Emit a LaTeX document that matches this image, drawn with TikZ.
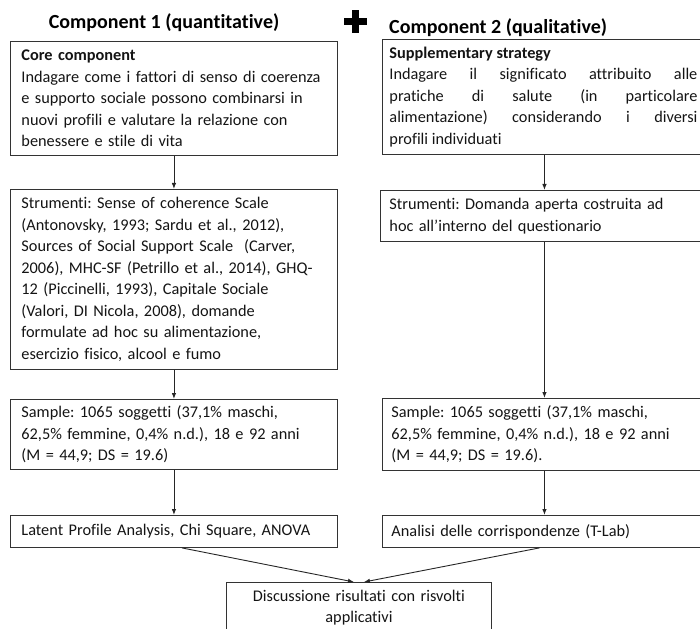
\documentclass[tikz,border=0pt]{standalone}
\usepackage{fontspec}
\setmainfont{Carlito}[Ligatures={NoCommon,NoContextual}]
\usetikzlibrary{arrows.meta,calc}
\frenchspacing
\begin{document}
\begin{tikzpicture}[x=1pt,y=-1pt,
  box/.style={draw=black!80, line width=0.9pt, anchor=north west, inner ysep=0pt, align=left,
    font=\fontsize{16.3}{21.5}\selectfont, text=black!92},
  lbox/.style={box, minimum width=327, text width=305, inner xsep=11},
  rbox/.style={box, text width=308, inner xsep=9},
  title/.style={font=\bfseries\fontsize{20}{24}\selectfont, inner sep=0pt, text=black},
  conn/.style={draw=black!85, line width=0.9pt, -{Latex[length=6pt,width=4.5pt]}}
]
\useasboundingbox (0,0) rectangle (700,628);
\clip (0,0) rectangle (700,628);

% titles
\node[title] (t1) at (164,23) {Component 1 (quantitative)};
\node[title, anchor=west] (t2) at (389,28) {Component 2 (qualitative)};
\fill[black] (343.5,18.5) rectangle (366.5,25.5);
\fill[black] (351.5,10.5) rectangle (358.5,33.5);

% left column
\node[lbox, minimum height=114] (c1) at (10,41)
  {\textbf{Core component}\\Indagare come i fattori di senso di coerenza\\e supporto sociale possono combinarsi in\\nuovi profili e valutare la relazione con\\benessere e stile di vita};
\node[lbox, minimum height=180] (s1) at (10,189)
  {Strumenti: Sense of coherence Scale\\(Antonovsky, 1993; Sardu et al., 2012),\\Sources of Social Support Scale~~(Carver,\\2006), MHC-SF (Petrillo et al., 2014), GHQ-\\12 (Piccinelli, 1993), Capitale Sociale\\(Valori, DI Nicola, 2008), domande\\formulate ad hoc su alimentazione,\\esercizio fisico, alcool e fumo};
\node[lbox, minimum height=70] (p1) at (10,399)
  {Sample: 1065 soggetti (37,1\% maschi,\\62,5\% femmine, 0,4\% n.d.), 18 e 92 anni\\(M = 44,9; DS = 19.6)};
\node[lbox, minimum height=32] (a1) at (10,515)
  {Latent Profile Analysis, Chi Square, ANOVA};

% right column
\node[rbox, inner xsep=7, minimum height=115, align=justify] (c2) at (382,39)
  {\textbf{Supplementary strategy}\\Indagare il significato attribuito alle\linebreak pratiche di salute (in particolare\linebreak alimentazione) considerando i diversi\linebreak profili individuati};
\node[rbox, text width=310, minimum height=51] (s2) at (380,190)
  {Strumenti: Domanda aperta costruita ad\\hoc all’interno del questionario};
\node[rbox, minimum height=72] (p2) at (382,398)
  {Sample: 1065 soggetti (37,1\% maschi,\\62,5\% femmine, 0,4\% n.d.), 18 e 92 anni\\(M = 44,9; DS = 19.6).};
\node[rbox, minimum height=32] (a2) at (382,515)
  {Analisi delle corrispondenze (T-Lab)};

% bottom
\node[box, minimum width=265, text width=245, inner xsep=10, minimum height=50, align=center] (d) at (226,582)
  {Discussione risultati con risvolti\\applicativi};

% connectors
\draw[conn] (c1.south) -- (c1.south |- s1.north);
\draw[conn] (s1.south) -- (s1.south |- p1.north);
\draw[conn] (p1.south) -- (p1.south |- a1.north);
\coordinate (r0) at ([xshift=1]c2.south);
\draw[conn] (r0) -- (r0 |- s2.north);
\draw[conn] (r0 |- s2.south) -- (r0 |- p2.north);
\draw[conn] (r0 |- p2.south) -- (r0 |- a2.north);
\coordinate (b1) at ([xshift=8]a1.south);
\coordinate (e1) at ([xshift=-5]d.north);
\coordinate (b2) at ([xshift=-6]a2.south);
\coordinate (e2) at ([xshift=5]d.north);
\draw[conn] (b1) -- (e1);
\draw[conn] (b2) -- (e2);
\end{tikzpicture}
\end{document}
